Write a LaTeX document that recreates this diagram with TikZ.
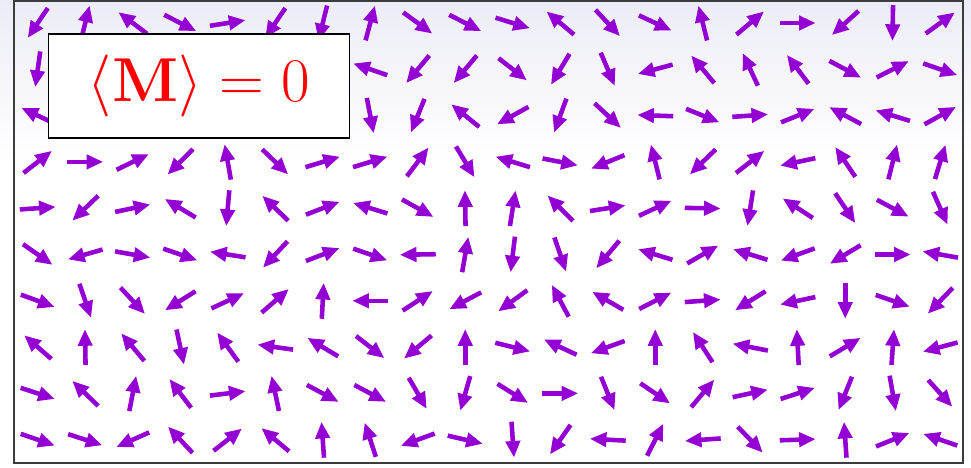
\documentclass[tikz,border=0pt]{standalone}
\usepackage{amsmath}
\usepackage{graphicx}
\usepackage{tikz}
\usetikzlibrary{arrows.meta,calc}
\definecolor{spinclr}{RGB}{148,0,211}
\definecolor{bgtop}{RGB}{236,236,246}
\definecolor{frameclr}{RGB}{60,60,60}
\tikzset{
  spin/.style={draw=spinclr,line width=2.6pt,
               -{Triangle[length=9.5pt,width=8pt]}},
  labelbox/.style={rectangle,draw=black,fill=white,line width=0.6pt,
                   minimum width=6.04cm,minimum height=2.08cm,inner sep=0pt,
                   text=red,font=\Huge},
}

\begin{document}
\begin{tikzpicture}[x=0.02cm,y=-0.02cm]
\useasboundingbox (0,0) rectangle (971,467);
\fill[white] (0,0) rectangle (971,467);
\shade[top color=bgtop,bottom color=white] (0,0) rectangle (971,160);
\draw[frameclr,line width=0.8pt] (14,1) rectangle (963,463);
% 999 = spin hidden under the label
\foreach \angs [count=\row from 0] in {
  {236,76,143,333,9,236,256,75,324,333,343,140,313,335,104,40,0,222,269,36},
  {262,999,999,999,999,999,999,161,230,230,322,239,293,195,130,115,127,332,27,341},
  {155,999,999,999,999,999,999,281,248,141,209,250,317,178,338,4,22,152,163,29},
  {38,0,26,225,100,316,17,17,53,301,163,349,202,104,224,38,192,124,76,73},
  {4,224,12,149,265,136,21,163,331,91,81,135,9,25,359,261,147,304,332,294},
  {325,196,350,341,171,227,21,341,181,80,263,289,230,163,30,163,200,211,0,170},
  {340,289,313,212,25,41,87,180,33,208,216,118,150,27,4,212,192,270,341,226},
  {139,91,130,282,126,172,149,322,220,90,346,155,200,90,123,169,93,31,86,195},
  {342,136,79,127,7,102,332,332,300,254,328,0,292,326,50,12,18,248,280,312},
  {341,342,204,133,38,140,94,108,200,347,274,235,177,63,184,314,2,94,22,161}} {
  \foreach \a [count=\col from 0] in \angs {
    \ifnum\a>360 \else
      \coordinate (s-\row-\col) at (37.75+47.5*\col, 23+46.3*\row);
      \draw[spin] ($(s-\row-\col)+(-\a:-18)$) -- ($(s-\row-\col)+(-\a:18)$);
    \fi
  }
}
\node[labelbox] (mlabel) at (199,86) {\scalebox{1.42}{$\langle\mathbf{M}\rangle = 0$}};
\end{tikzpicture}
\end{document}
